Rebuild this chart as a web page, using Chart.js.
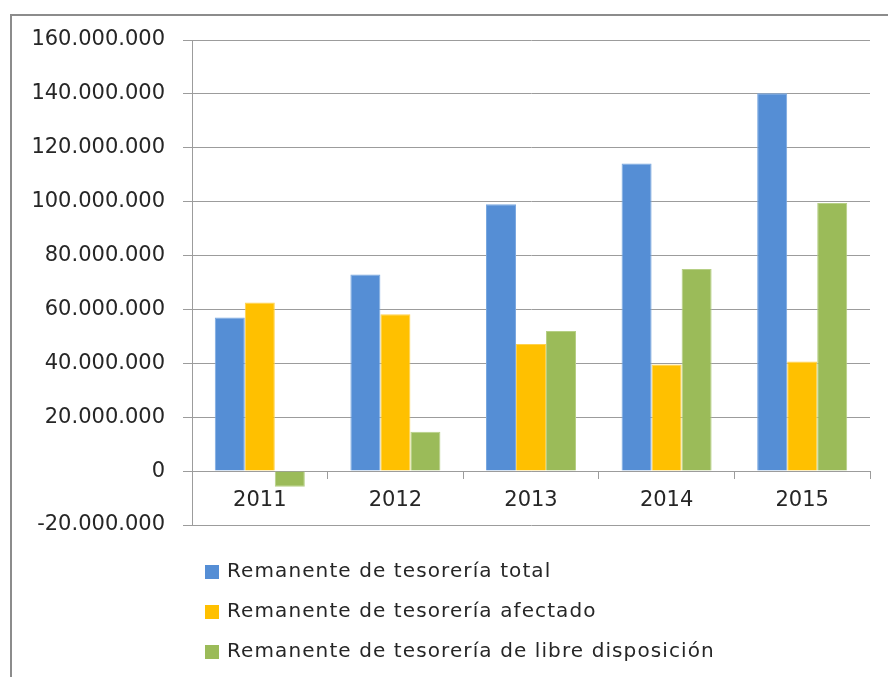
<!DOCTYPE html>
<html>
<head>
<meta charset="utf-8">
<script src="https://cdn.jsdelivr.net/npm/chart.js@4/dist/chart.umd.min.js"></script>
<style>
  html, body { margin: 0; padding: 0; background: #ffffff; overflow: hidden; }
  #frame {
    position: absolute; left: 10px; top: 14px; width: 900px; height: 700px;
    border-left: 2px solid #8c8c8c; border-top: 2px solid #8c8c8c;
  }
  #chart { position: absolute; left: 0; top: 0; }
</style>
</head>
<body>
<div id="frame"></div>
<canvas id="chart" width="888" height="677"></canvas>
<script>
const years = ['2011', '2012', '2013', '2014', '2015'];
const remanenteTotal = [57000000, 73000000, 99000000, 114200000, 140200000];
const remanenteAfectado = [62600000, 58200000, 47200000, 39600000, 40700000];
const remanenteLibre = [-5800000, 14600000, 52000000, 75000000, 99500000];
const seriesNames = [
  'Remanente de tesorería total',
  'Remanente de tesorería afectado',
  'Remanente de tesorería de libre disposición'
];

const colors = {
  blue: '#558ed5',
  yellow: '#ffc000',
  green: '#9bbb59',
  grid: '#9c9c9c',
  text: '#262626'
};

function formatThousands(v) {
  const s = Math.abs(v).toString().replace(/\B(?=(\d{3})+(?!\d))/g, '.');
  return (v < 0 ? '-' : '') + s;
}

// legend stacked vertically under the plot, drawn on the canvas
const stackedLegend = {
  id: 'stackedLegend',
  afterDraw(chart) {
    const { ctx } = chart;
    ctx.save();
    ctx.font = '20px "DejaVu Sans", sans-serif';
    ctx.letterSpacing = '1.1px';
    ctx.textBaseline = 'middle';
    ctx.textAlign = 'left';
    chart.data.datasets.forEach((ds, i) => {
      const y = 572 + i * 40;
      ctx.fillStyle = ds.backgroundColor;
      ctx.fillRect(205, y - 7, 14, 14);
      ctx.fillStyle = colors.text;
      ctx.fillText(ds.label, 227, y);
    });
    ctx.restore();
  }
};

new Chart(document.getElementById('chart'), {
  type: 'bar',
  data: {
    labels: years,
    datasets: [
      { label: seriesNames[0], data: remanenteTotal, backgroundColor: colors.blue, borderColor: '#7aa8e0', borderWidth: 1 },
      { label: seriesNames[1], data: remanenteAfectado, backgroundColor: colors.yellow, borderColor: '#ffd24d', borderWidth: 1 },
      { label: seriesNames[2], data: remanenteLibre, backgroundColor: colors.green, borderColor: '#b6cf85', borderWidth: 1 }
    ]
  },
  options: {
    responsive: false,
    animation: false,
    devicePixelRatio: 1,
    layout: { padding: { left: 0, top: 40, right: 18, bottom: 152 } },
    datasets: { bar: { categoryPercentage: 0.664, barPercentage: 1 } },
    plugins: {
      legend: { display: false },
      tooltip: { enabled: false }
    },
    scales: {
      x: {
        position: { y: 0 },
        grid: { drawOnChartArea: false, drawTicks: true, tickLength: 7, color: colors.grid, offset: true },
        border: { display: true, color: colors.grid, width: 1 },
        ticks: { color: colors.text, font: { family: '"DejaVu Sans", sans-serif', size: 21 }, padding: 10 }
      },
      y: {
        min: -20000000,
        max: 160000000,
        afterFit(scale) { scale.width = 192; },
        grid: { color: colors.grid, tickLength: 9, lineWidth: 1 },
        border: { display: true, color: colors.grid, width: 1 },
        ticks: {
          stepSize: 20000000,
          color: colors.text,
          padding: 18,
          font: { family: '"DejaVu Sans", sans-serif', size: 21 },
          callback: (v) => formatThousands(v)
        }
      }
    }
  },
  plugins: [stackedLegend]
});
</script>
</body>
</html>
